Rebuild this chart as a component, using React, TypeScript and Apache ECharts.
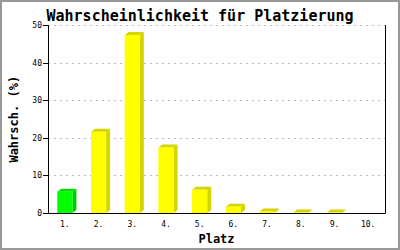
import React, { useEffect, useRef } from "react";
import * as echarts from "echarts";

const categories = ["1.", "2.", "3.", "4.", "5.", "6.", "7.", "8.", "9.", "10."];
const values = [5.7, 21.7, 47.5, 17.5, 6.2, 1.7, 0.4, 0.15, 0.15, 0];
const yTicks = { min: 0, max: 50, interval: 10 };
const highlightIndex = 0;

const FONT = "'DejaVu Sans Mono', 'Liberation Mono', monospace";

export default function App() {
  const ref = useRef<HTMLDivElement>(null);
  useEffect(() => {
    document.body.style.margin = "0";
    const chart = echarts.init(ref.current!, null, { renderer: "svg" });
    const DX = 4;
    const DY = 3;
    chart.setOption({
      animation: false,
      backgroundColor: "#fff",
      title: {
        text: "Wahrscheinlichkeit für Platzierung",
        left: "center",
        top: 3,
        textStyle: { fontFamily: FONT, fontSize: 15, fontWeight: "bold", color: "#000" },
      },
      graphic: [
        {
          type: "rect",
          shape: { x: 1, y: 1, width: 398, height: 248 },
          style: { fill: "none", stroke: "#999", lineWidth: 2 },
          silent: true,
        },
      ],
      grid: { left: 43, right: 15, top: 25.5, bottom: 36 },
      xAxis: {
        type: "category",
        data: categories,
        boundaryGap: true,
        name: "Platz",
        nameLocation: "middle",
        nameGap: 20,
        nameTextStyle: { fontFamily: FONT, fontSize: 12, fontWeight: "bold", color: "#000" },
        axisLine: { show: true, lineStyle: { color: "#000", width: 1 } },
        axisTick: { show: false },
        axisLabel: { fontFamily: FONT, fontSize: 8, color: "#000", margin: 7 },
        splitLine: { show: false },
      },
      yAxis: [
        {
          type: "value",
          min: yTicks.min,
          max: yTicks.max,
          interval: yTicks.interval,
          name: "Wahrsch. (%)",
          nameLocation: "middle",
          nameGap: 28,
          nameTextStyle: { fontFamily: FONT, fontSize: 12, fontWeight: "bold", color: "#000" },
          axisLine: { show: true, lineStyle: { color: "#000", width: 1 } },
          axisTick: { show: true, length: 5, lineStyle: { color: "#000" } },
          axisLabel: { fontFamily: FONT, fontSize: 8, color: "#000", margin: 6 },
          splitLine: { show: true, lineStyle: { color: "#bbb", type: [2, 4], width: 1 } },
        },
        {
          type: "value",
          position: "right",
          min: yTicks.min,
          max: yTicks.max,
          interval: yTicks.interval,
          axisLine: { show: true, lineStyle: { color: "#000", width: 1 } },
          axisTick: { show: false },
          axisLabel: { show: false },
          splitLine: { show: false },
        },
      ],
      series: [
        {
          type: "custom",
          data: values.map((v, i) => [i, v]),
          encode: { x: 0, y: 1 },
          renderItem: (params: any, api: any) => {
            const idx = api.value(0);
            const v = api.value(1);
            if (!(v > 0)) return null;
            const top = api.coord([idx, v]);
            const base = api.coord([idx, 0]);
            const w = api.size([1, 0])[0] * 0.45;
            const x0 = top[0] - w / 2;
            const x1 = top[0] + w / 2;
            const yT = top[1];
            const yB = base[1];
            const hl = idx === highlightIndex;
            const front = hl ? "#00ff00" : "#ffff00";
            const side = hl ? "#00cc00" : "#d4d400";
            const topC = hl ? "#00dd00" : "#d4d400";
            return {
              type: "group",
              children: [
                {
                  type: "polygon",
                  shape: { points: [[x1, yT], [x1 + DX, yT - DY], [x1 + DX, yB - DY], [x1, yB]] },
                  style: { fill: side },
                },
                {
                  type: "polygon",
                  shape: { points: [[x0, yT], [x0 + DX, yT - DY], [x1 + DX, yT - DY], [x1, yT]] },
                  style: { fill: topC },
                },
                {
                  type: "rect",
                  shape: { x: x0, y: yT, width: w, height: yB - yT },
                  style: { fill: front },
                },
              ],
            };
          },
        },
      ],
    });
    return () => chart.dispose();
  }, []);
  return <div ref={ref} style={{ position: "fixed", left: 0, top: 0, width: 400, height: 250 }} />;
}
